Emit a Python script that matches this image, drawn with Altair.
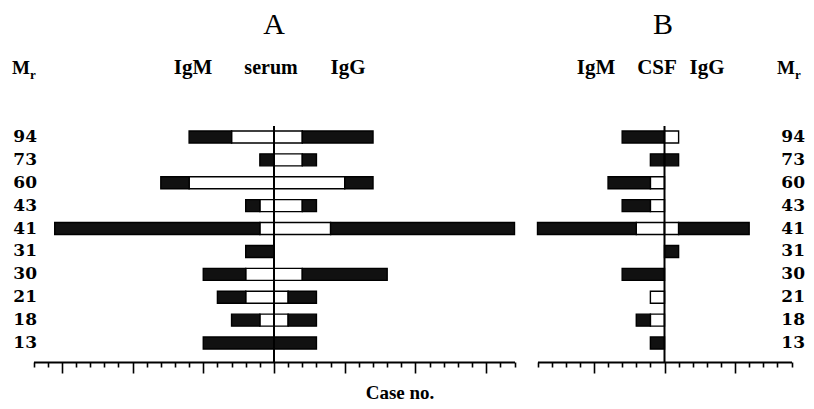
import altair as alt
import pandas as pd

# ---- data ----
mr = ["94", "73", "60", "43", "41", "31", "30", "21", "18", "13"]

# Panel A (serum): number of cases, IgM to the left, IgG to the right
a_igm_total = [6, 1, 8, 2, 15.5, 2, 5, 4, 3, 5]
a_igm_white = [3, 0, 6, 1, 1, 0, 2, 2, 1, 0]
a_igg_total = [7, 3, 7, 3, 17, 0, 8, 3, 3, 3]
a_igg_white = [2, 2, 5, 2, 4, 0, 2, 1, 1, 0]

# Panel B (CSF)
b_igm_total = [3, 1, 4, 3, 9, 0, 3, 1, 2, 1]
b_igm_white = [0, 0, 1, 1, 2, 0, 0, 1, 1, 0]
b_igg_total = [1, 1, 0, 0, 6, 1, 0, 0, 0, 0]
b_igg_white = [1, 0, 0, 0, 1, 0, 0, 0, 0, 0]

ticks_a = list(range(-17, 18))
ticks_b = list(range(-9, 10))


def segments(igm_total, igm_white, igg_total, igg_white):
    rows = []
    for m, mt, mw, gt, gw in zip(mr, igm_total, igm_white, igg_total, igg_white):
        if mw > 0:
            rows.append(dict(mr=m, x=-mw, x2=0, fill="white"))
        if mt > mw:
            rows.append(dict(mr=m, x=-mt, x2=-mw, fill="#111111"))
        if gw > 0:
            rows.append(dict(mr=m, x=0, x2=gw, fill="white"))
        if gt > gw:
            rows.append(dict(mr=m, x=gw, x2=gt, fill="#111111"))
    return pd.DataFrame(rows)


df_a = segments(a_igm_total, a_igm_white, a_igg_total, a_igg_white)
df_b = segments(b_igm_total, b_igm_white, b_igg_total, b_igg_white)
df_mr = pd.DataFrame({"mr": mr})

xa = alt.Scale(domain=[-17, 17], range=[25.5, 506.5], nice=False, zero=False)
xb = alt.Scale(domain=[-9, 9], range=[529.5, 783.5], nice=False, zero=False)
ys = alt.Scale(domain=mr, range=[117.5, 346.5], paddingInner=0.476, paddingOuter=0.238)

tick_size = {"condition": {"test": "datum.value % 5 === 0", "value": 11}, "value": 5}


def case_axis(vals):
    return alt.Axis(values=vals, labels=False, title=None, grid=False, orient="bottom",
                    domainColor="black", domainWidth=2, tickColor="black",
                    tickWidth=1.6, tickSize=tick_size)


def bars(df, xs, vals):
    return alt.Chart(df).mark_bar(stroke="black", strokeWidth=1.4).encode(
        x=alt.X("x:Q", scale=xs, axis=case_axis(vals)),
        x2="x2:Q",
        y=alt.Y("mr:N", scale=ys, axis=None, sort=mr),
        color=alt.Color("fill:N", scale=None),
    )


def center_rule(xs):
    return alt.Chart(pd.DataFrame({"v": [0]})).mark_rule(color="black", strokeWidth=2).encode(
        x=alt.X("v:Q", scale=xs, axis=None),
        y=alt.value(118),
        y2=alt.value(355),
    )


def label(text, x, y, size, align="center", weight="bold", font="Liberation Serif"):
    return alt.Chart(pd.DataFrame({"t": [text]})).mark_text(
        align=align, baseline="middle", fontSize=size, fontWeight=weight,
        font=font, color="black",
    ).encode(x=alt.value(x), y=alt.value(y), text="t:N")


num_left = alt.Chart(df_mr).mark_text(
    align="right", baseline="middle", fontSize=17, fontWeight="bold",
    font="DejaVu Serif", color="black",
).encode(x=alt.value(29), y=alt.Y("mr:N", scale=ys, axis=None, sort=mr), text="mr:N")

num_right = alt.Chart(df_mr).mark_text(
    align="right", baseline="middle", fontSize=17, fontWeight="bold",
    font="DejaVu Serif", color="black",
).encode(x=alt.value(797), y=alt.Y("mr:N", scale=ys, axis=None, sort=mr), text="mr:N")

layers = [
    bars(df_a, xa, ticks_a),
    center_rule(xa),
    bars(df_b, xb, ticks_b),
    center_rule(xb),
    num_left,
    num_right,
    label("A", 266, 17, 30, weight="normal"),
    label("B", 655, 17, 30, weight="normal"),
    label("M", 4, 60, 19, align="left"),
    label("r", 22, 67, 13, align="left"),
    label("IgM", 185, 60, 21),
    label("serum", 263, 60, 20),
    label("IgG", 340, 60, 21),
    label("IgM", 588, 60, 21),
    label("CSF", 649, 60, 21),
    label("IgG", 699, 60, 21),
    label("M", 769, 60, 19, align="left"),
    label("r", 787, 67, 13, align="left"),
    label("Case no.", 392, 385, 19),
]

chart = alt.layer(*layers).resolve_scale(x="independent").properties(
    width=798,
    height=354,
    padding={"left": 0, "top": 0, "right": 0, "bottom": 40},
    autosize=alt.AutoSizeParams(type="none"),
).configure_view(stroke=None)

chart.save("out.html", embed_options={"renderer": "svg", "actions": False})
